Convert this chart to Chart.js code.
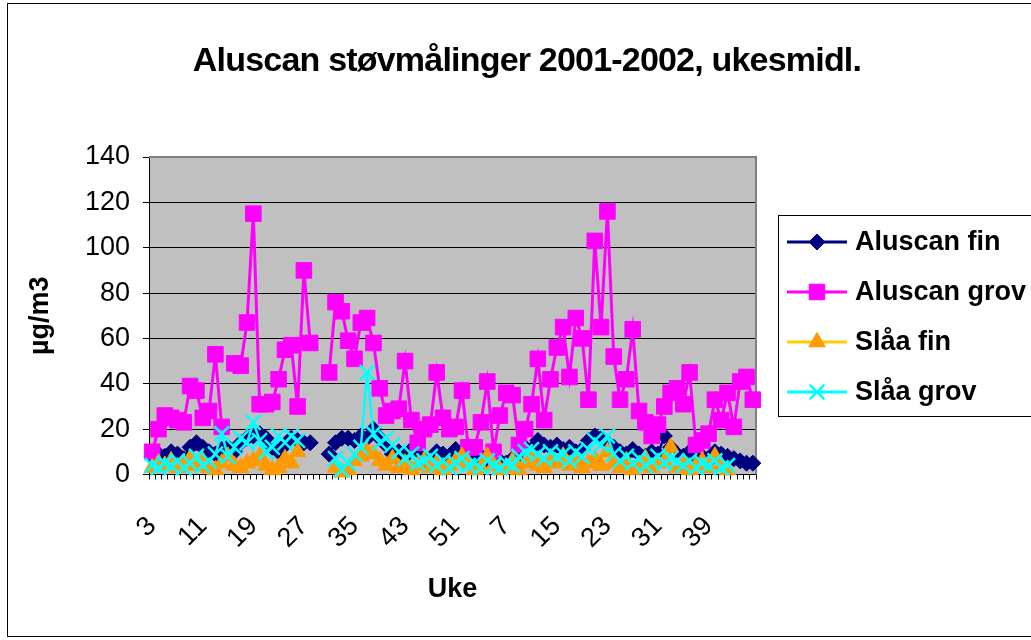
<!DOCTYPE html>
<html>
<head>
<meta charset="utf-8">
<title>Aluscan støvmålinger 2001-2002</title>
<script src="https://cdn.jsdelivr.net/npm/chart.js@4.4.1/dist/chart.umd.min.js"></script>
<style>
  html, body { margin: 0; padding: 0; background: #fff; }
  canvas { display: block; }
</style>
</head>
<body>
<canvas id="graph1" width="1031" height="640"></canvas>
<script>
// uke 3-52 (2001) og uke 1-46 (2002)
var uker = [3,4,5,6,7,8,9,10,11,12,13,14,15,16,17,18,19,20,21,22,
            23,24,25,26,27,28,29,30,31,32,33,34,35,36,37,38,39,40,41,42,
            43,44,45,46,47,48,49,50,51,52,
            1,2,3,4,5,6,7,8,9,10,11,12,13,14,15,16,17,18,19,20,
            21,22,23,24,25,26,27,28,29,30,31,32,33,34,35,36,37,38,39,40,
            41,42,43,44,45,46];

var aluscanFin = [8,9,8,10,9,7,12,14,12,10,
                  9,11,12,10,14,16,17,18,16,12,
                  10,13,16,15,14,14,null,null,9,14,
                  16,16,15,17,16,20,16,13,9,10,
                  8,11,9,7,6,10,9,8,11,9,
                  7,6,8,5,8,6,5,7,9,12,
                  11,15,13,12,13,11,12,10,11,15,
                  17,16,14,12,10,9,11,9,8,10,
                  9,17,12,9,8,10,7,8,6,10,
                  9,8,7,6,5,5];

var aluscanGrov = [10,20,26,25,24,23,39,37,25,28,
                   53,21,null,49,48,67,115,31,31,32,
                   42,55,57,30,90,58,null,null,45,76,
                   72,59,51,67,69,58,38,26,28,29,
                   50,24,14,20,22,45,25,20,21,37,
                   12,12,23,41,10,26,36,35,13,20,
                   31,51,24,42,56,65,43,69,60,33,
                   103,65,116,52,33,42,64,28,23,17,
                   22,30,36,38,31,45,13,15,18,33,
                   24,36,21,41,43,33];

var slaaFin = [3,5,4,6,3,5,7,4,6,3,
               2,5,8,4,3,5,6,8,4,2,
               3,7,5,10,null,null,null,null,null,3,
               1,2,6,8,10,9,6,4,7,3,
               5,2,4,6,3,5,2,4,6,8,
               5,2,3,8,4,2,3,6,2,5,
               7,4,3,6,5,8,4,6,3,5,
               7,4,10,5,3,6,2,4,7,3,
               5,6,12,3,5,2,4,6,3,8,
               4,2,null,null,null,null];

var slaaGrov = [4,3,5,4,6,3,5,8,4,6,
                9,18,8,12,16,14,23,15,10,12,
                17,14,17,15,null,null,null,null,null,7,
                2,5,9,12,45,18,14,16,13,10,
                7,9,5,6,8,4,6,3,5,7,
                4,5,3,6,4,3,5,4,8,10,
                11,9,7,10,8,9,6,10,8,11,
                15,13,17,9,6,8,5,7,4,6,
                8,5,7,6,4,6,3,5,4,6,
                3,4,null,null,null,null];

var tittel = 'Aluscan støvmålinger 2001-2002, ukesmidl.';
var family = '"Liberation Sans", Arial, sans-serif';

Chart.defaults.font.family = family;
Chart.defaults.color = '#000';

// grå plottflate, ramme, tittel og Excel-lik tegnforklaring
var excelLook = {
  id: 'excelLook',
  beforeDraw: function(chart) {
    var c = chart.ctx, a = chart.chartArea;
    c.save();
    c.fillStyle = '#fff';
    c.fillRect(0, 0, chart.width, chart.height);
    c.fillStyle = '#c0c0c0';
    c.fillRect(a.left, a.top, a.right - a.left, a.bottom - a.top);
    c.restore();
  },
  beforeDatasetsDraw: function(chart) {
    var c = chart.ctx, a = chart.chartArea;
    c.save();
    c.strokeStyle = '#808080';
    c.lineWidth = 2;
    c.beginPath();
    c.moveTo(a.left, a.top);
    c.lineTo(a.right, a.top);
    c.lineTo(a.right, a.bottom);
    c.stroke();
    c.restore();
  },
  afterDraw: function(chart) {
    var c = chart.ctx;
    c.save();
    // ytre ramme
    c.strokeStyle = '#000';
    c.lineWidth = 1;
    c.strokeRect(7.5, 3.5, 1100, 633);
    // tittel
    c.fillStyle = '#000';
    c.font = 'bold 34px ' + family;
    c.letterSpacing = '-0.8px';
    c.textAlign = 'center';
    c.textBaseline = 'middle';
    c.fillText(tittel, 527, 62);
    c.letterSpacing = '0px';
    // tegnforklaring
    c.strokeStyle = '#000';
    c.lineWidth = 1;
    c.fillStyle = '#fff';
    c.fillRect(778.5, 215.5, 300, 201);
    c.strokeRect(778.5, 215.5, 300, 201);
    chart.data.datasets.forEach(function(ds, i) {
      var y = 242 + i * 50;
      c.strokeStyle = ds.borderColor;
      c.lineWidth = 3;
      c.beginPath();
      c.moveTo(787, y);
      c.lineTo(847, y);
      c.stroke();
      c.fillStyle = ds.pointBackgroundColor;
      c.strokeStyle = ds.pointBorderColor;
      c.lineWidth = ds.pointBorderWidth;
      Chart.helpers.drawPoint(c, {
        pointStyle: ds.pointStyle,
        radius: ds.pointRadius,
        rotation: 0,
        borderWidth: ds.pointBorderWidth
      }, 817, y);
      c.fillStyle = '#000';
      c.font = 'bold 27px ' + family;
      c.textAlign = 'left';
      c.textBaseline = 'middle';
      c.fillText(ds.label, 855, y + 1);
    });
    c.restore();
  }
};

var graph1 = document.getElementById('graph1').getContext('2d');
var myChart = new Chart(graph1, {
  type: 'line',
  data: {
    labels: uker,
    datasets: [{
      label: 'Aluscan fin',
      data: aluscanFin,
      borderColor: '#000080',
      backgroundColor: '#000080',
      pointBackgroundColor: '#000080',
      pointBorderColor: '#000080',
      pointStyle: 'rectRot',
      pointRadius: 8,
      pointBorderWidth: 1,
      borderWidth: 2.5,
      clip: false,
      order: 3
    }, {
      label: 'Aluscan grov',
      data: aluscanGrov,
      borderColor: '#ff00ff',
      backgroundColor: '#ff00ff',
      pointBackgroundColor: '#ff00ff',
      pointBorderColor: '#ff00ff',
      pointStyle: 'rect',
      pointRadius: 11,
      pointBorderWidth: 1,
      borderWidth: 3,
      clip: false,
      order: 2
    }, {
      label: 'Slåa fin',
      data: slaaFin,
      borderColor: '#ffcc00',
      backgroundColor: '#ff9900',
      pointBackgroundColor: '#ff9900',
      pointBorderColor: '#ff9900',
      pointStyle: 'triangle',
      pointRadius: 9.5,
      pointBorderWidth: 1,
      borderWidth: 2.5,
      clip: false,
      order: 1
    }, {
      label: 'Slåa grov',
      data: slaaGrov,
      borderColor: '#00ffff',
      backgroundColor: '#00ffff',
      pointBackgroundColor: '#00ffff',
      pointBorderColor: '#00ffff',
      pointStyle: 'crossRot',
      pointRadius: 10.5,
      pointBorderWidth: 2.5,
      borderWidth: 2.5,
      clip: false,
      order: 0
    }]
  },
  options: {
    responsive: false,
    animation: false,
    devicePixelRatio: 1,
    layout: { padding: { left: 0, right: 275, top: 157, bottom: 0 } },
    scales: {
      x: {
        type: 'category',
        offset: true,
        grid: { offset: true, drawOnChartArea: false, drawTicks: true, tickLength: 5, color: '#000', lineWidth: 1 },
        border: { display: true, color: '#000', width: 1 },
        ticks: {
          autoSkip: false,
          maxRotation: 45,
          minRotation: 45,
          padding: 31,
          color: '#000',
          font: { size: 27 },
          callback: function(v, i) { return i % 8 === 0 ? this.getLabelForValue(v) : ''; }
        },
        title: { display: true, text: 'Uke', color: '#000', font: { size: 27, weight: 'bold' }, padding: { top: 0, bottom: 34 } },
        afterFit: function(s) { s.height = 165.5; }
      },
      y: {
        min: 0,
        max: 140,
        ticks: { stepSize: 20, padding: 13, color: '#000', font: { size: 27 } },
        grid: { color: '#000', lineWidth: 1, tickLength: 6, drawTicks: true },
        border: { color: '#000', width: 1 },
        title: { display: true, text: 'µg/m3', color: '#000', font: { size: 27, weight: 'bold' }, padding: { top: 24, bottom: 0 } },
        afterFit: function(s) { s.width = 149; }
      }
    },
    plugins: {
      legend: { display: false },
      title: { display: false },
      tooltip: { enabled: false }
    }
  },
  plugins: [excelLook]
});
</script>
</body>
</html>
